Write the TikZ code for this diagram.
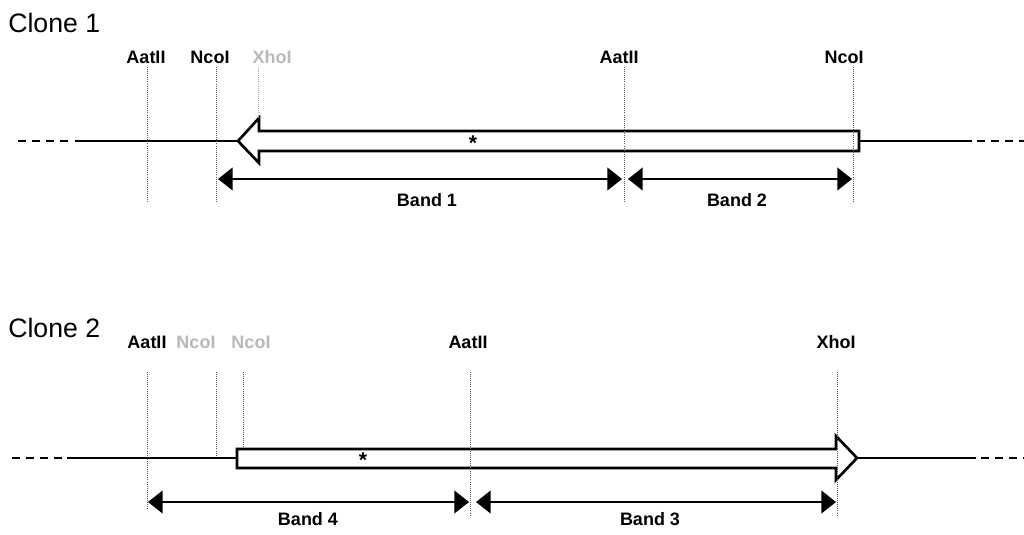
\documentclass[tikz,border=0pt]{standalone}
\usepackage{fontspec}
\setmainfont{Liberation Sans}
\usetikzlibrary{arrows.meta}
\begin{document}
\begin{tikzpicture}[x=0.75pt,y=-0.75pt,
  title/.style={font=\fontsize{20}{24}\selectfont, anchor=west, inner sep=0},
  site/.style={font=\bfseries\fontsize{13.5}{16}\selectfont, inner sep=0},
  faint/.style={site, text=black!28},
  cut/.style={draw=black!65, line width=0.55pt, densely dotted},
  dna/.style={line width=1.6pt},
  dnadash/.style={line width=1.6pt, dash pattern=on 6pt off 4.5pt},
  insert/.style={draw, line width=2pt, fill=white, line join=miter},
  band/.style={line width=1.6pt, {Triangle[length=11pt,width=17pt]}-{Triangle[length=11pt,width=17pt]}},
  bandlabel/.style={font=\bfseries\fontsize{13.5}{16}\selectfont, inner sep=0},
  star/.style={font=\bfseries\fontsize{16}{16}\selectfont, inner sep=0}
]
\useasboundingbox (0,0) rectangle (1024,535);

% ---------------- Clone 1 ----------------
\node[title] (c1) at (8,23) {Clone 1};
\node[site]  (s1a) at (146,57) {AatII};
\node[site]  (s1b) at (210,57) {NcoI};
\node[faint] (s1c) at (272,57) {XhoI};
\node[site]  (s1d) at (619,57) {AatII};
\node[site]  (s1e) at (844,57) {NcoI};

% main line
\coordinate (m1a) at (18,141);  \coordinate (m1b) at (70,141);
\coordinate (m1c) at (75,141);  \coordinate (m1d) at (238,141);
\coordinate (m1e) at (859,141); \coordinate (m1f) at (972,141);
\coordinate (m1g) at (977,141); \coordinate (m1h) at (1024,141);
\draw[dnadash] (m1a) -- (m1b);
\draw[dna] (m1c) -- (m1d);
\draw[dna] (m1e) -- (m1f);
\draw[dnadash] (m1g) -- (m1h);

% insert arrow (pointing left)
\draw[insert] (859,131) -- (259,131) -- (259,118) -- (238,141) -- (259,163)
  -- (259,151) -- (859,151) -- cycle;
\node[star] (st1) at (473,143) {*};

% cut site lines
\coordinate (v1a) at (147,67);  \coordinate (w1a) at (147,203);
\coordinate (v1b) at (216,67);  \coordinate (w1b) at (216,203);
\coordinate (v1c) at (258,67);  \coordinate (w1c) at (258,117);
\coordinate (v1d) at (624,67);  \coordinate (w1d) at (624,203);
\coordinate (v1e) at (853,67);  \coordinate (w1e) at (853,203);
\draw[cut] (v1a) -- (w1a);
\draw[cut] (v1b) -- (w1b);
\draw[cut, draw=black!35] (v1c) -- (w1c);
\draw[cut] (v1d) -- (w1d);
\draw[cut] (v1e) -- (w1e);

% bands
\coordinate (b1l) at (218,179); \coordinate (b1r) at (622,179);
\coordinate (b2l) at (628,179); \coordinate (b2r) at (852,179);
\draw[band] (b1l) -- (b1r);
\draw[band] (b2l) -- (b2r);
\node[bandlabel] (lb1) at (427,200) {Band 1};
\node[bandlabel] (lb2) at (737,200) {Band 2};

% ---------------- Clone 2 ----------------
\node[title] (c2) at (8,328) {Clone 2};
\node[site]  (s2a) at (147,342) {AatII};
\node[faint] (s2b) at (196,342) {NcoI};
\node[faint] (s2c) at (251,342) {NcoI};
\node[site]  (s2d) at (468,342) {AatII};
\node[site]  (s2e) at (836,342) {XhoI};

% main line
\coordinate (m2a) at (12,458);  \coordinate (m2b) at (63,458);
\coordinate (m2c) at (67,458);  \coordinate (m2d) at (237,458);
\coordinate (m2e) at (857,458); \coordinate (m2f) at (976,458);
\coordinate (m2g) at (981,458); \coordinate (m2h) at (1024,458);
\draw[dnadash] (m2a) -- (m2b);
\draw[dna] (m2c) -- (m2d);
\draw[dna] (m2e) -- (m2f);
\draw[dnadash] (m2g) -- (m2h);

% insert arrow (pointing right)
\draw[insert] (237,449) -- (836,449) -- (836,436) -- (857,458) -- (836,480)
  -- (836,468) -- (237,468) -- cycle;
\node[star] (st2) at (363,460) {*};

% cut site lines
\coordinate (v2a) at (147,372); \coordinate (w2a) at (147,510);
\coordinate (v2b) at (216,372); \coordinate (w2b) at (216,455);
\coordinate (v2c) at (243,372); \coordinate (w2c) at (243,448);
\coordinate (v2d) at (470,372); \coordinate (w2d) at (470,515);
\coordinate (v2e) at (837,372); \coordinate (w2e) at (837,515);
\draw[cut] (v2a) -- (w2a);
\draw[cut] (v2b) -- (w2b);
\draw[cut] (v2c) -- (w2c);
\draw[cut] (v2d) -- (w2d);
\draw[cut] (v2e) -- (w2e);

% bands
\coordinate (b4l) at (148,502); \coordinate (b4r) at (469,502);
\coordinate (b3l) at (476,502); \coordinate (b3r) at (836,502);
\draw[band] (b4l) -- (b4r);
\draw[band] (b3l) -- (b3r);
\node[bandlabel] (lb4) at (308,519) {Band 4};
\node[bandlabel] (lb3) at (650,519) {Band 3};
\end{tikzpicture}
\end{document}
